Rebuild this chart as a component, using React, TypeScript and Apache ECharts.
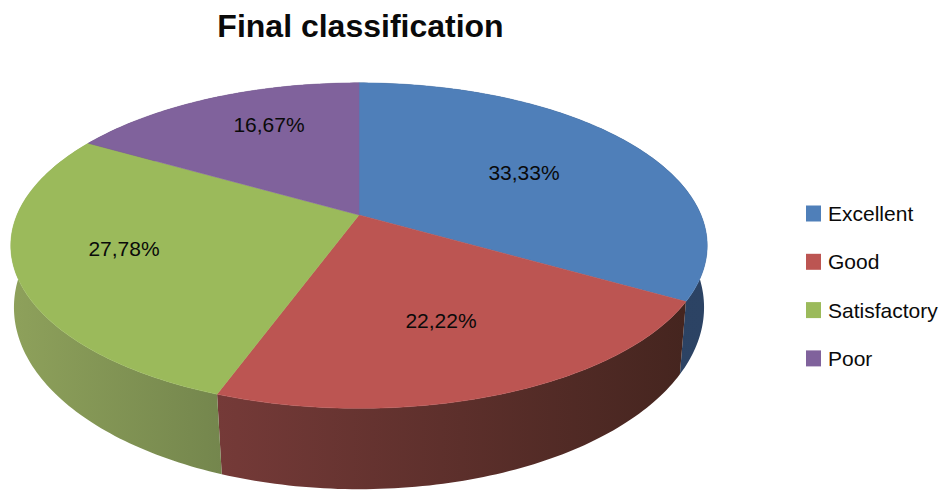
import React, { useEffect, useRef } from "react";
import * as echarts from "echarts";

const categories = ["Excellent", "Good", "Satisfactory", "Poor"];
const shares = [33.33, 22.22, 27.78, 16.67];
const chartTitle = "Final classification";

const topColors = ["#4f7fb9", "#bc5552", "#9bba5b", "#80629c"];
const sideStops: [string, string][] = [
  ["#2a3f5f", "#2c4364"],
  ["#753a38", "#45251f"],
  ["#8ea15b", "#74864d"],
  ["#4d3b61", "#4d3b61"],
];

const FONT = '"Liberation Sans", Arial, sans-serif';
// perspective disc geometry
const TOP = { cx: 359, cy: 215, a: 342, b: 157, p: 0.188 };
const BOTTOM = { cx: 359, cy: 278, a: 340.5, b: 177, p: 0.162 };
const LABEL_ANCHORS = [
  [524, 172],
  [441, 320],
  [124, 248],
  [269, 124],
];
const STEP = 1;

type Disc = typeof TOP;

function project(d: Disc, deg: number, r = 1): number[] {
  const t = (deg * Math.PI) / 180;
  const u = r * Math.sin(t);
  const v = -r * Math.cos(t);
  const w = 1 - d.p * v;
  return [d.cx + (d.a * u) / w, d.cy + (d.b * v) / w];
}

function arc(d: Disc, from: number, to: number): number[][] {
  const pts: number[][] = [];
  const n = Math.max(2, Math.ceil((to - from) / STEP));
  for (let i = 0; i <= n; i++) pts.push(project(d, from + ((to - from) * i) / n));
  return pts;
}

const total = shares.reduce((a, b) => a + b, 0);

function sliceAngles(i: number): [number, number] {
  let before = 0;
  for (let k = 0; k < i; k++) before += shares[k];
  return [(before / total) * 360, ((before + shares[i]) / total) * 360];
}

function makeSeries(i: number) {
  return {
    type: "custom",
    name: categories[i],
    coordinateSystem: "none",
    data: [shares[i]],
    itemStyle: { color: topColors[i] },
    silent: true,
    renderItem: () => {
      const [from, to] = sliceAngles(i);
      const topArc = arc(TOP, from, to);
      const bottomArc = arc(BOTTOM, from, to);
      const side = [...topArc, ...bottomArc.reverse()];
      const xs = side.map((p) => p[0]);
      const fill = topColors[i];
      return {
        type: "group",
        children: [
          {
            type: "polygon",
            z2: 1,
            shape: { points: side },
            style: {
              fill: new echarts.graphic.LinearGradient(
                Math.min(...xs), 0, Math.max(...xs), 0,
                [
                  { offset: 0, color: sideStops[i][0] },
                  { offset: 1, color: sideStops[i][1] },
                ],
                true
              ),
            },
          },
          {
            type: "polygon",
            z2: 2,
            shape: { points: [[TOP.cx, TOP.cy], ...topArc] },
            style: { fill, stroke: fill, lineWidth: 0.5 },
          },
          {
            type: "text",
            z2: 3,
            x: LABEL_ANCHORS[i][0],
            y: LABEL_ANCHORS[i][1],
            style: {
              text: shares[i].toFixed(2).replace(".", ",") + "%",
              font: `21px ${FONT}`,
              fill: "#0a0a0a",
              align: "center",
              verticalAlign: "middle",
            },
          },
        ],
      };
    },
  };
}

export default function App() {
  const ref = useRef<HTMLDivElement>(null);
  useEffect(() => {
    document.body.style.margin = "0";
    const chart = echarts.init(ref.current!, undefined, { renderer: "svg" });
    chart.setOption({
      animation: false,
      backgroundColor: "#ffffff",
      color: topColors,
      title: {
        text: chartTitle,
        left: 355.5,
        top: 5,
        textAlign: "center",
        textStyle: { fontFamily: FONT, fontSize: 32, fontWeight: "bold", color: "#0a0a0a" },
      },
      legend: {
        orient: "vertical",
        left: 806,
        top: 203,
        icon: "rect",
        itemWidth: 15,
        itemHeight: 16,
        itemGap: 27.3,
        padding: 0,
        selectedMode: false,
        data: categories,
        textStyle: { fontFamily: FONT, fontSize: 21, color: "#0a0a0a", padding: [0, 0, 0, 2] },
      },
      series: categories.map((_, i) => makeSeries(i)),
    });
    return () => chart.dispose();
  }, []);
  return <div ref={ref} style={{ width: 939, height: 490 }} />;
}
